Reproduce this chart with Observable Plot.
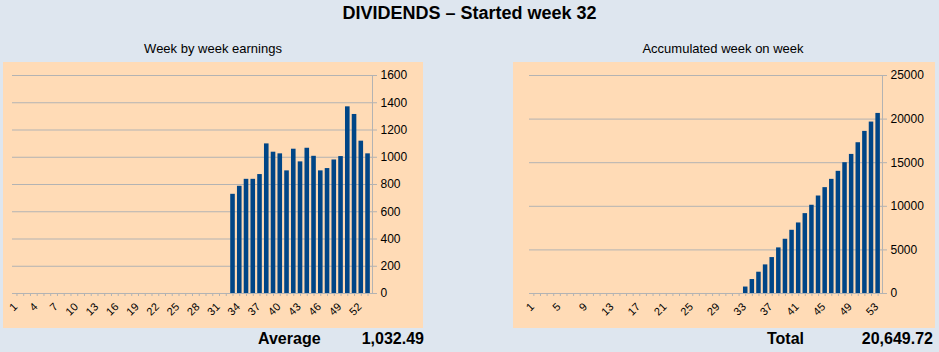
<!DOCTYPE html>
<html><head><meta charset="utf-8">
<script src="https://cdn.jsdelivr.net/npm/d3@7"></script>
<script src="https://cdn.jsdelivr.net/npm/@observablehq/plot@0.6"></script>
<style>
html,body{margin:0;padding:0;}
body{width:939px;height:352px;background:#dee6ef;position:relative;overflow:hidden;font-family:"Liberation Sans",Arial,sans-serif;color:#000;}
.abs{position:absolute;white-space:nowrap;line-height:1.15;}
#title{left:0;width:939px;top:3px;text-align:center;font-weight:bold;font-size:18px;}
.sub{font-size:13px;top:42px;text-align:center;}
.panel{position:absolute;top:62px;height:266px;background:#ffdbb6;}
.foot{font-weight:bold;font-size:16px;top:330px;}
</style>
</head>
<body>
<div id="title" class="abs">DIVIDENDS – Started week 32</div>
<div class="abs sub" style="left:113px;width:200px;">Week by week earnings</div>
<div class="abs sub" style="left:623px;width:200px;">Accumulated week on week</div>
<div id="left" class="panel" style="left:3px;width:420px;"></div>
<div id="right" class="panel" style="left:513px;width:422px;"></div>
<div class="abs foot" style="left:258px;">Average</div>
<div class="abs foot" style="left:324px;width:100px;text-align:right;">1,032.49</div>
<div class="abs foot" style="left:767px;">Total</div>
<div class="abs foot" style="left:813px;width:120px;text-align:right;">20,649.72</div>
<script>
const weeks = [1,2,3,4,5,6,7,8,9,10,11,12,13,14,15,16,17,18,19,20,21,22,23,24,25,26,27,28,29,30,31,32,33,34,35,36,37,38,39,40,41,42,43,44,45,46,47,48,49,50,51,52,53];
const earnWeeks = [33,34,35,36,37,38,39,40,41,42,43,44,45,46,47,48,49,50,51,52,53];
const weekly = [728,787,838,838,873,1098,1037,1025,900,1059,966,1066,1007,900,917,980,1005,1370,1314,1118,1025];
const cumulative = [740,1600,2440,3280,4120,5230,6220,7250,8090,9160,10120,11180,12140,13090,14010,15000,15950,17290,18590,19660,20650];
const leftYTicks = [0,200,400,600,800,1000,1200,1400,1600];
const rightYTicks = [0,5000,10000,15000,20000,25000];
const leftXLabels = [1,4,7,10,13,16,19,22,25,28,31,34,37,40,43,46,49,52];
const rightXLabels = [1,5,9,13,17,21,25,29,33,37,41,45,49,53];

function chart({width, height, mL, mR, values, yMax, yTicks, labels}) {
  const data = earnWeeks.map((w, i) => ({week: w, value: values[i]}));
  return Plot.plot({
    width, height, marginLeft: mL, marginRight: mR, marginTop: 13, marginBottom: 35,
    style: {background: "transparent", fontFamily: '"Liberation Sans", Arial, sans-serif', fontSize: "12px", color: "#000", overflow: "visible"},
    x: {type: "band", domain: weeks, padding: 0.32},
    y: {domain: [0, yMax]},
    marks: [
      Plot.gridY(yTicks, {stroke: "#b3b3b3", strokeOpacity: 1}),
      Plot.barY(data, {x: "week", y: "value", fill: "#004586"}),
      Plot.ruleY([0], {stroke: "#b3b3b3"}),
      Plot.axisY(yTicks, {anchor: "right", tickSize: 4, tickPadding: 4, stroke: "#b3b3b3", label: null, fontSize: 12, tickFormat: d => String(d)}),
      Plot.axisX({tickSize: 3, tickFormat: () => "", stroke: "#b3b3b3", label: null}),
      Plot.text(labels, {x: d => d, text: d => String(d), frameAnchor: "bottom", rotate: -45, textAnchor: "end", dy: 14, dx: 1, fontSize: 11, fill: "#000"}),
      Plot.frame({anchor: "right", stroke: "#b3b3b3"})
    ]
  });
}
document.getElementById("left").append(chart({width: 420, height: 266, mL: 9, mR: 51, values: weekly, yMax: 1600, yTicks: leftYTicks, labels: leftXLabels}));
document.getElementById("right").append(chart({width: 422, height: 266, mL: 16, mR: 53, values: cumulative, yMax: 25000, yTicks: rightYTicks, labels: rightXLabels}));
</script>
</body></html>
